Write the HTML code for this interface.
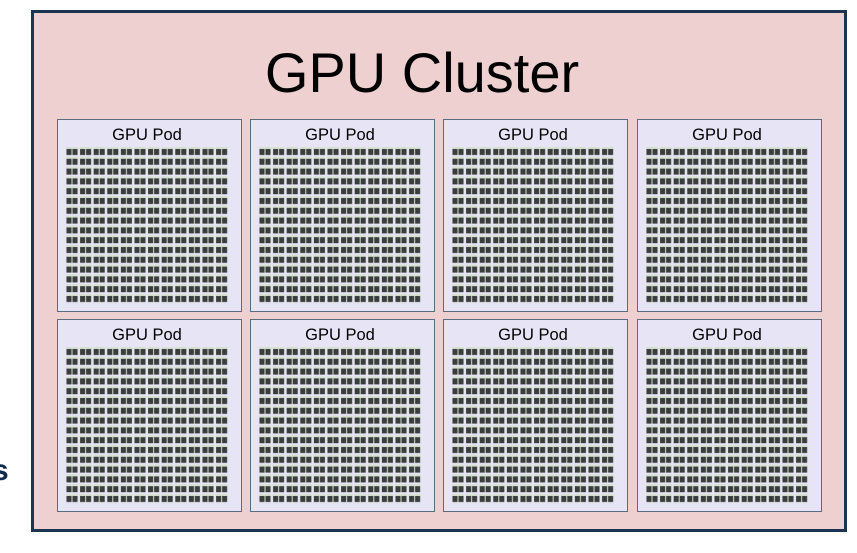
<!DOCTYPE html>
<html><head><style>
body{margin:0;background:#fff;width:857px;height:553px;overflow:hidden}
</style></head><body>
<svg width="857" height="553" xmlns="http://www.w3.org/2000/svg" style="position:absolute;left:0;top:0">
<defs>
<pattern id="g" x="66" y="147" width="13.6" height="9.8" patternUnits="userSpaceOnUse">
<rect x="0" y="0" width="12" height="8" fill="#d6e0d0"/>
<rect x="0.5" y="2" width="5" height="6" fill="#3a3d3e"/>
<rect x="6.5" y="2" width="5" height="6" fill="#3a3d3e"/>
</pattern>
</defs>
<text x="-8" y="480" font-family="Liberation Sans, sans-serif" font-size="30" font-weight="bold" fill="#0f2a4a">s</text>
<rect x="32.5" y="11.5" width="813" height="519" fill="#efd0d0" stroke="#1b3550" stroke-width="3"/>
<text x="422" y="92" text-anchor="middle" font-family="Liberation Sans, sans-serif" font-size="56" fill="#000">GPU Cluster</text>
<g font-family="Liberation Sans, sans-serif" font-size="16.5" text-anchor="middle" fill="#000">
<g id="p">
<rect x="57.5" y="119.5" width="184" height="192" fill="#e6e4f5" stroke="#5a6a80"/>
<text x="147" y="140">GPU Pod</text>
<rect x="66" y="147" width="163" height="157" fill="url(#g)"/>
</g>
<use href="#p" x="193"/><use href="#p" x="386"/><use href="#p" x="580"/>
<use href="#p" y="200"/><use href="#p" x="193" y="200"/><use href="#p" x="386" y="200"/><use href="#p" x="580" y="200"/>
</g>
</svg>
</body></html>
